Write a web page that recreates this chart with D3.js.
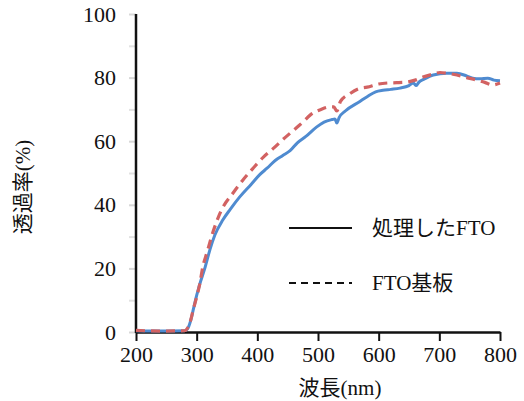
<!DOCTYPE html>
<html>
<head>
<meta charset="utf-8">
<script src="https://cdn.jsdelivr.net/npm/d3@7"></script>
<style>
	body { margin: 0; background: #fff; }
	text { font-family: "Liberation Serif", "Noto Sans CJK JP", serif; fill: #111; }
</style>
</head>
<body>
<svg id="chart" width="524" height="401"></svg>
<script>

//############
//### data ###
//############
// [wavelength (nm), transmittance (%)]
var processedFTO = [
	[200,0.4],[240,0.3],[280,0.4],[285,1],[290,3.5],[295,7.5],[300,11.5],[305,15],[314,20.4],
	[322,26],[330,30.5],[343,35.2],[355,38.5],[371,42.5],[390,46.5],[404,49.5],[416,51.5],
	[430,54],[442,55.5],[454,57],[466,59.5],[480,61.5],[498,64.5],[510,66],[523,66.8],[528,67],
	[531,65.7],[535,67.5],[545,69.5],[569,72.5],[581,74],[595,75.5],[607,76],[620,76.3],
	[635,76.7],[650,77.5],[657,78.3],[662,77.5],[666,78.5],[675,79.5],[690,80.8],[712,81.4],
	[729,81.4],[745,80.5],[755,79.8],[767,79.6],[780,79.8],[790,79.2],[800,79]
];
var substrateFTO = [
	[200,0.5],[240,0.3],[280,0.4],[284,1],[289,3],[295,7.5],[300,11],[305,15],[310,20.4],
	[317,25],[327,31.5],[340,38],[360,43.7],[375,47.5],[393,51.5],[410,55],[425,57.5],
	[442,60.5],[460,63.5],[475,66],[487,68.2],[505,70],[520,70.8],[526,70.8],[531,69.5],
	[537,72.5],[553,75],[567,76.5],[581,77],[600,78],[614,78.3],[630,78.4],[647,78.6],
	[660,79.2],[673,80.2],[688,81],[701,81.6],[715,81.3],[729,80.8],[745,80],[762,79.2],
	[775,78.5],[788,77.7],[800,78.3]
];
var xTicks = [200, 300, 400, 500, 600, 700, 800];
var yTicks = [0, 20, 40, 60, 80, 100];
var yMinorTicks = [10, 30, 50, 70, 90];
var legendLabels = ["処理したFTO", "FTO基板"];

//##############
//### layout ###
//##############
var svg = d3.select("#chart");

var x = d3.scaleLinear().domain([200, 800]).range([136, 500]);
var y = d3.scaleLinear().domain([0, 100]).range([332, 14]);

// soft edge on the data lines
svg.append("defs").append("filter")
	.attr("id", "soft")
	.append("feGaussianBlur")
		.attr("stdDeviation", 0.7);

// y ticks (light grey, left of the axis)
var yAxis = svg.append("g")
	.attr("transform", "translate(" + x(200) + ",0)")
	.call(d3.axisLeft(y).tickValues(yTicks).tickSize(7).tickPadding(13).tickFormat(d3.format("d")));
yAxis.select(".domain").remove();
yAxis.selectAll("line").attr("stroke", "#d8d8d8").attr("stroke-width", 2);
yAxis.selectAll("text")
	.attr("font-size", 22)
	.attr("font-family", "Liberation Serif")
	.attr("fill", "#111");

svg.append("g")
	.attr("transform", "translate(" + x(200) + ",0)")
	.call(d3.axisLeft(y).tickValues(yMinorTicks).tickSize(7).tickFormat(""))
	.call(function(g){ g.select(".domain").remove(); })
	.selectAll("line")
		.attr("stroke", "#e2e2e2")
		.attr("stroke-width", 2);

// x axis
var xAxis = svg.append("g")
	.attr("transform", "translate(0," + y(0) + ")")
	.call(d3.axisBottom(x).tickValues(xTicks).tickSize(9).tickSizeOuter(0).tickPadding(5));
xAxis.select(".domain").attr("stroke", "#111").attr("stroke-width", 2.5);
xAxis.selectAll("line").attr("stroke", "#111").attr("stroke-width", 2);
xAxis.selectAll("text")
	.attr("font-size", 22)
	.attr("font-family", "Liberation Serif")
	.attr("fill", "#111");

// y axis line
svg.append("line")
	.attr("x1", x(200)).attr("x2", x(200))
	.attr("y1", y(100)).attr("y2", y(0) + 1)
	.attr("stroke", "#111")
	.attr("stroke-width", 2.5);

//#############
//### lines ###
//#############
var line = d3.line()
	.x(function(d){ return x(d[0]); })
	.y(function(d){ return y(d[1]); })
	.curve(d3.curveMonotoneX);

svg.append("path")
	.datum(processedFTO)
	.attr("d", line)
	.attr("fill", "none")
	.attr("stroke", "#4f8bd0")
	.attr("stroke-width", 3)
	.attr("filter", "url(#soft)");

svg.append("path")
	.datum(substrateFTO)
	.attr("d", line)
	.attr("fill", "none")
	.attr("stroke", "#d26262")
	.attr("stroke-width", 3.2)
	.attr("stroke-dasharray", "9,6")
	.attr("filter", "url(#soft)");

//##############
//### legend ###
//##############
var legend = svg.append("g").attr("class", "legend");
var legendRows = legend.selectAll("g")
	.data(legendLabels)
	.enter()
	.append("g")
		.attr("transform", function(d, i){ return "translate(289," + (228 + i*55) + ")"; });

legendRows.append("line")
	.attr("x1", 0).attr("x2", 63)
	.attr("y1", 0).attr("y2", 0)
	.attr("stroke", "#111")
	.attr("stroke-width", 2)
	.attr("stroke-dasharray", function(d, i){ return i == 0 ? null : "7,5"; });

legendRows.append("text")
	.attr("x", 83)
	.attr("dy", "0.35em")
	.attr("font-size", 21)
	.text(function(d){ return d; });

//###################
//### axis titles ###
//###################
svg.append("text")
	.attr("x", 340)
	.attr("y", 395)
	.attr("text-anchor", "middle")
	.attr("font-size", 21)
	.text("波長(nm)");

svg.append("text")
	.attr("transform", "translate(30,187) rotate(-90)")
	.attr("text-anchor", "middle")
	.attr("font-size", 21)
	.text("透過率(%)");

</script>
</body>
</html>
